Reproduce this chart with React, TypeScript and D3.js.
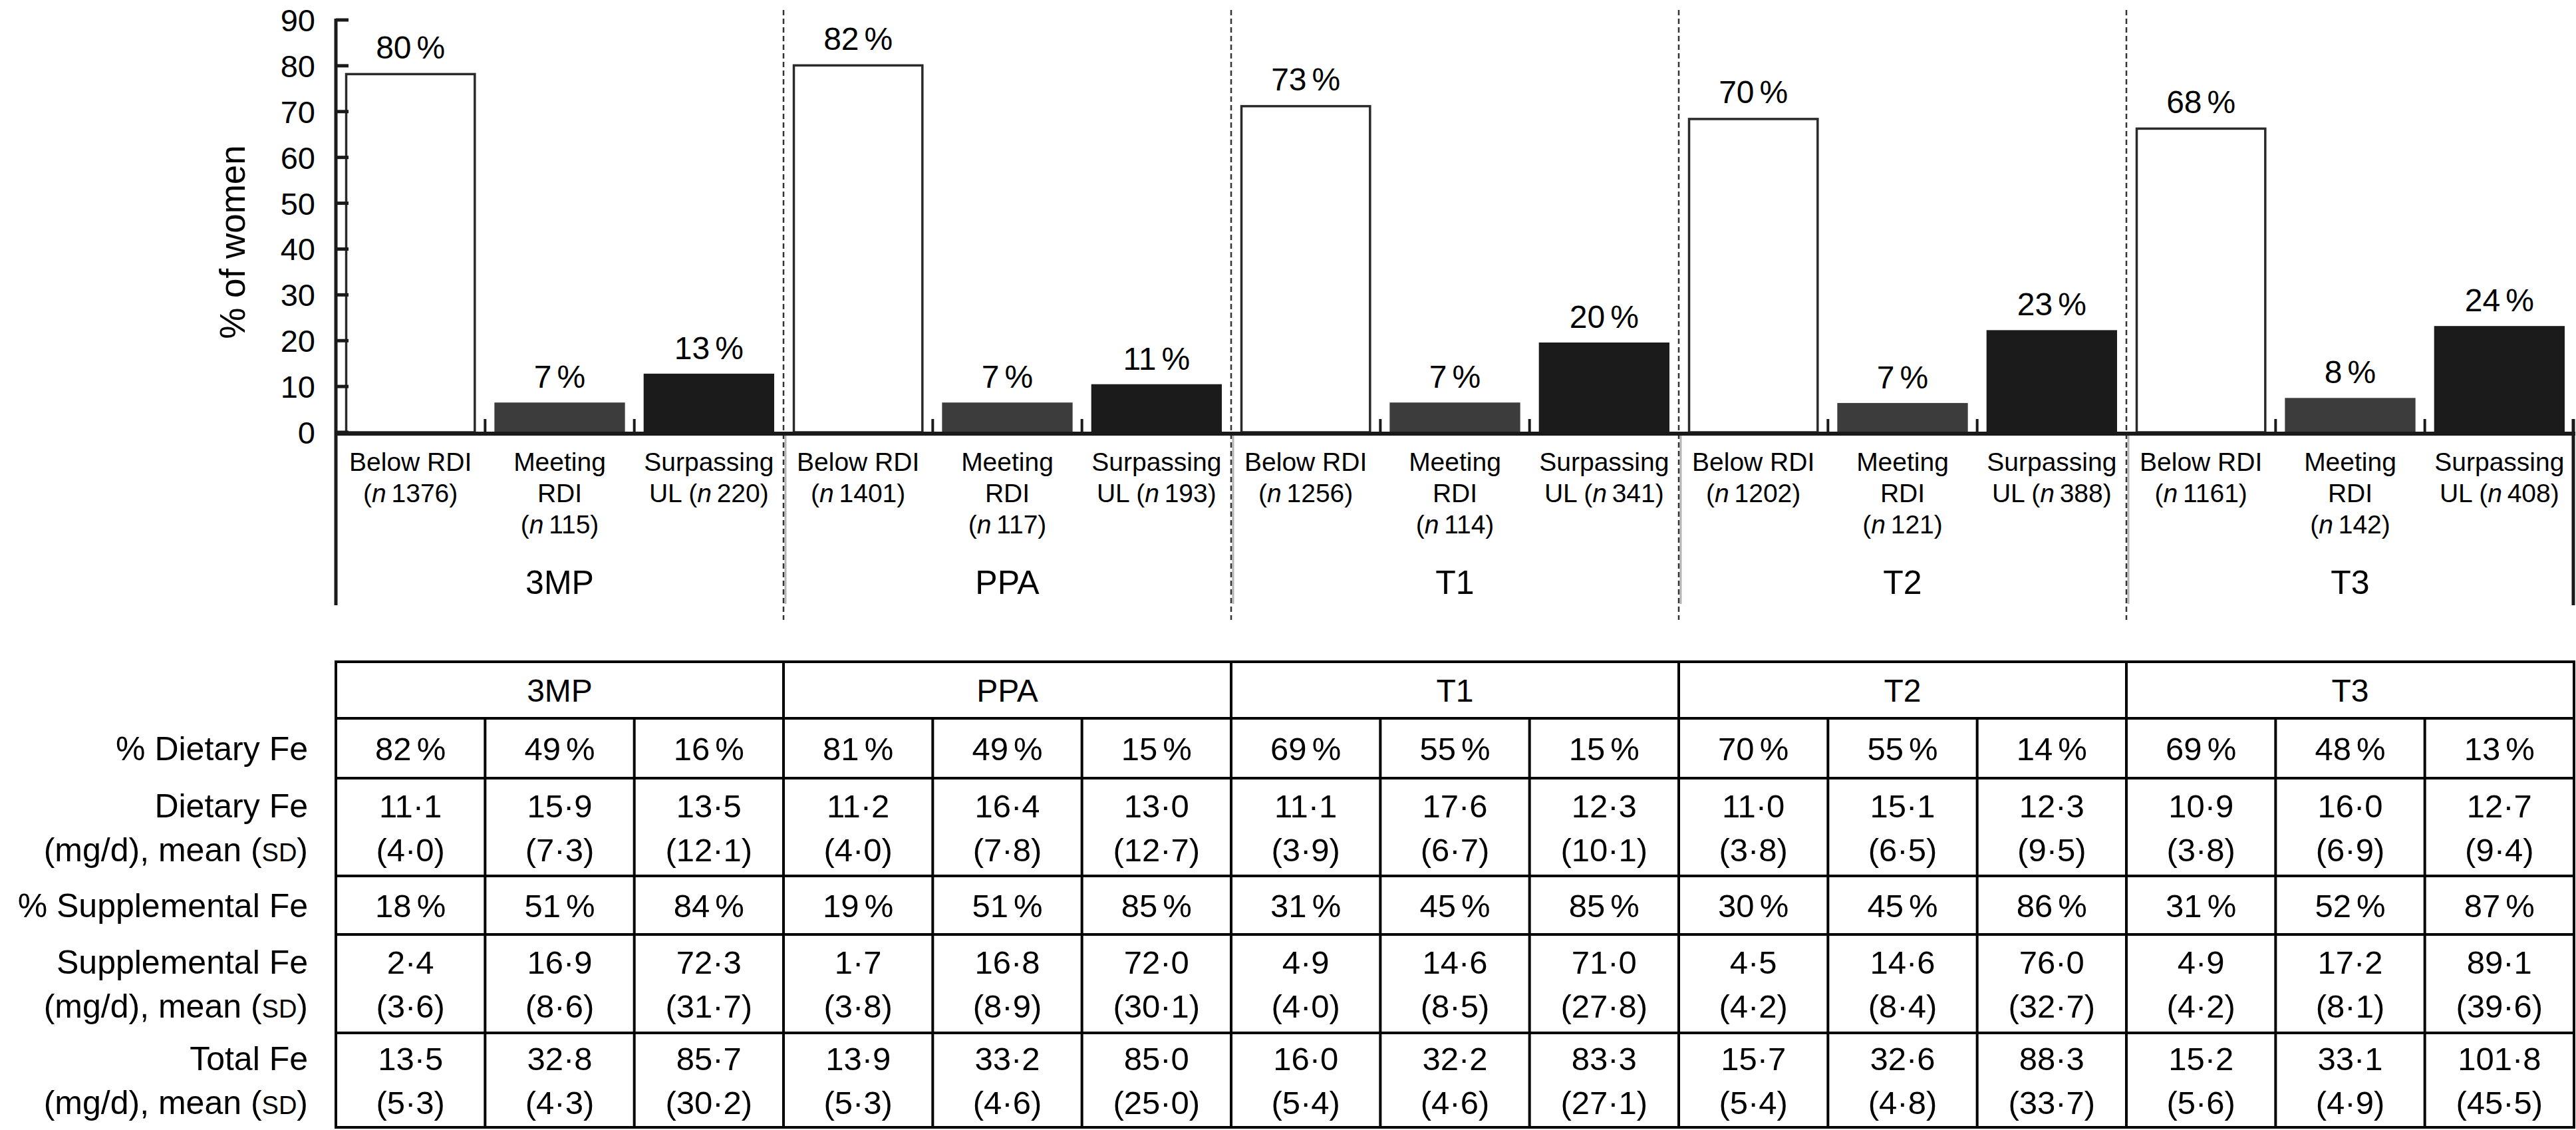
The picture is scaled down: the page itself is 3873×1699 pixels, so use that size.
import React from 'react';
import * as d3 from 'd3';

const groups = ['3MP', 'PPA', 'T1', 'T2', 'T3'];
const categories = ['below', 'meeting', 'surpassing'];
const belowValues = [78.4, 80.3, 71.4, 68.6, 66.5];
const meetingValues = [6.5, 6.5, 6.5, 6.4, 7.5];
const surpassingValues = [12.8, 10.5, 19.6, 22.3, 23.2];
const belowLabels = ['80', '82', '73', '70', '68'];
const meetingLabels = ['7', '7', '7', '7', '8'];
const surpassingLabels = ['13', '11', '20', '23', '24'];
const belowN = [1376, 1401, 1256, 1202, 1161];
const meetingN = [115, 117, 114, 121, 142];
const surpassingN = [220, 193, 341, 388, 408];
const yTicks = [0, 10, 20, 30, 40, 50, 60, 70, 80, 90];

const dietaryPct = [82, 49, 16, 81, 49, 15, 69, 55, 15, 70, 55, 14, 69, 48, 13];
const dietaryMean = [11.1, 15.9, 13.5, 11.2, 16.4, 13.0, 11.1, 17.6, 12.3, 11.0, 15.1, 12.3, 10.9, 16.0, 12.7];
const dietarySd = [4.0, 7.3, 12.1, 4.0, 7.8, 12.7, 3.9, 6.7, 10.1, 3.8, 6.5, 9.5, 3.8, 6.9, 9.4];
const supplPct = [18, 51, 84, 19, 51, 85, 31, 45, 85, 30, 45, 86, 31, 52, 87];
const supplMean = [2.4, 16.9, 72.3, 1.7, 16.8, 72.0, 4.9, 14.6, 71.0, 4.5, 14.6, 76.0, 4.9, 17.2, 89.1];
const supplSd = [3.6, 8.6, 31.7, 3.8, 8.9, 30.1, 4.0, 8.5, 27.8, 4.2, 8.4, 32.7, 4.2, 8.1, 39.6];
const totalMean = [13.5, 32.8, 85.7, 13.9, 33.2, 85.0, 16.0, 32.2, 83.3, 15.7, 32.6, 88.3, 15.2, 33.1, 101.8];
const totalSd = [5.3, 4.3, 30.2, 5.3, 4.6, 25.0, 5.4, 4.6, 27.1, 5.4, 4.8, 33.7, 5.6, 4.9, 45.5];

const FONT = '"Liberation Sans", Arial, Helvetica, sans-serif';
const W = 3873;
const H = 1699;

const fmt1 = (v: number) => d3.format('.1f')(v).replace('.', '\u00B7');

export default function App() {
  const xGroup = d3.scaleBand<string>().domain(groups).range([505, 3870]).padding(0);
  const xCat = d3
    .scaleBand<string>()
    .domain(categories)
    .range([0, xGroup.bandwidth()])
    .paddingInner(0.125)
    .paddingOuter(0.0625);
  const step = xCat.step();
  const y = d3.scaleLinear().domain([0, 90]).range([650, 30]);
  const axisY = 652;

  const valuesByCat: Record<string, number[]> = {
    below: belowValues,
    meeting: meetingValues,
    surpassing: surpassingValues,
  };
  const labelsByCat: Record<string, string[]> = {
    below: belowLabels,
    meeting: meetingLabels,
    surpassing: surpassingLabels,
  };
  const nByCat: Record<string, number[]> = { below: belowN, meeting: meetingN, surpassing: surpassingN };
  const fillByCat: Record<string, string> = { below: '#ffffff', meeting: '#3c3c3c', surpassing: '#1b1b1b' };

  const slotStart = (gi: number, ci: number) => (xGroup(groups[gi]) as number) + ci * step;

  // table geometry
  const rowEdges = [995, 1080, 1170, 1317, 1405, 1553, 1695];
  const tableLeft = 505;
  const tableRight = 3870;
  const lineGap = 66;

  const xLabelLines = (cat: string, n: number) => {
    const nPart = (prefix: string) => (
      <>
        {prefix}
        <tspan fontStyle="italic">n</tspan>
        {'\u2009' + n + ')'}
      </>
    );
    if (cat === 'below') return ['Below RDI', nPart('(')];
    if (cat === 'meeting') return ['Meeting', 'RDI', nPart('(')];
    return ['Surpassing', nPart('UL (')];
  };

  const sdLabel = (
    <>
      (mg/d), mean (<tspan fontSize={38}>SD</tspan>)
    </>
  );
  const rowLabels: any[][] = [
    ['% Dietary Fe'],
    ['Dietary Fe', sdLabel],
    ['% Supplemental Fe'],
    ['Supplemental Fe', sdLabel],
    ['Total Fe', sdLabel],
  ];

  const pctCell = (v: number) => (
    <>
      {String(v)}
      <tspan dx={8}>%</tspan>
    </>
  );
  const meanSdCell = (m: number, s: number) => [fmt1(m), '(' + fmt1(s) + ')'];

  const rowCells = (ri: number, k: number): any[] => {
    if (ri === 0) return [pctCell(dietaryPct[k])];
    if (ri === 1) return meanSdCell(dietaryMean[k], dietarySd[k]);
    if (ri === 2) return [pctCell(supplPct[k])];
    if (ri === 3) return meanSdCell(supplMean[k], supplSd[k]);
    return meanSdCell(totalMean[k], totalSd[k]);
  };

  const linesBaselines = (ri: number, count: number) => {
    const top = rowEdges[ri + 1];
    const bottom = rowEdges[ri + 2];
    const c = (top + bottom) / 2;
    if (count === 1) return [c + 18];
    return [c - lineGap / 2 + 18, c + lineGap / 2 + 18];
  };

  return (
    <svg
      width={W}
      height={H}
      style={{ position: 'absolute', left: 0, top: 0, background: '#fff' }}
      fontFamily={FONT}
    >
      <rect x={0} y={0} width={W} height={H} fill="#fff" />

      {/* dashed group separators */}
      {groups.slice(1).map((g) => {
        const x = xGroup(g) as number;
        return (
          <g key={'sep' + g}>
            <line x1={x + 3} x2={x + 3} y1={axisY} y2={908} stroke="#b5b5b5" strokeWidth={3} />
            <line x1={x} x2={x} y1={15} y2={932} stroke="#333" strokeWidth={2.5} strokeDasharray="8 5" />
          </g>
        );
      })}

      {/* bars */}
      {groups.map((g, gi) =>
        categories.map((c) => {
          const v = valuesByCat[c][gi];
          const x = (xGroup(g) as number) + (xCat(c) as number);
          const bw = xCat.bandwidth();
          const isOutline = c === 'below';
          return (
            <g key={g + c}>
              <rect
                x={isOutline ? x + 1.5 : x}
                y={y(v) + (isOutline ? 1.5 : 0)}
                width={isOutline ? bw - 3 : bw}
                height={y(0) - y(v) - (isOutline ? 1.5 : 0)}
                fill={fillByCat[c]}
                stroke={isOutline ? '#2a2a2a' : 'none'}
                strokeWidth={isOutline ? 3.5 : 0}
              />
              <text x={x + bw / 2} y={y(v) - 22} textAnchor="middle" fontSize={48} fill="#000">
                {labelsByCat[c][gi]}
                <tspan dx={8}>%</tspan>
              </text>
            </g>
          );
        })
      )}

      {/* y axis */}
      <line x1={505} x2={505} y1={28} y2={910} stroke="#1a1a1a" strokeWidth={5} />
      {yTicks.map((t) => (
        <g key={'yt' + t}>
          <line x1={505} x2={524} y1={y(t)} y2={y(t)} stroke="#1a1a1a" strokeWidth={5} />
          <text x={474} y={y(t) + 17} textAnchor="end" fontSize={47} fill="#000">
            {t}
          </text>
        </g>
      ))}
      <text
        transform={`translate(368,364) rotate(-90)`}
        textAnchor="middle"
        fontSize={53}
        fill="#000"
      >
        % of women
      </text>

      {/* x axis */}
      <line x1={503} x2={3872} y1={axisY} y2={axisY} stroke="#1a1a1a" strokeWidth={6} />
      <line x1={3869} x2={3869} y1={630} y2={910} stroke="#1a1a1a" strokeWidth={5} />
      {groups.map((g, gi) =>
        [1, 2].map((ci) => (
          <line
            key={'xt' + g + ci}
            x1={slotStart(gi, ci)}
            x2={slotStart(gi, ci)}
            y1={630}
            y2={axisY}
            stroke="#1a1a1a"
            strokeWidth={4}
          />
        ))
      )}

      {/* category labels */}
      {groups.map((g, gi) =>
        categories.map((c) => {
          const cx = (xGroup(g) as number) + (xCat(c) as number) + xCat.bandwidth() / 2;
          const lines = xLabelLines(c, nByCat[c][gi]);
          return (
            <g key={'xl' + g + c}>
              {lines.map((ln, li) => (
                <text key={li} x={cx} y={708 + li * 47} textAnchor="middle" fontSize={39} fill="#000">
                  {ln}
                </text>
              ))}
            </g>
          );
        })
      )}
      {groups.map((g) => (
        <text
          key={'gl' + g}
          x={(xGroup(g) as number) + xGroup.bandwidth() / 2}
          y={893}
          textAnchor="middle"
          fontSize={50}
          fill="#000"
        >
          {g}
        </text>
      ))}

      {/* table */}
      {rowEdges.map((ry, i) => (
        <line key={'rl' + i} x1={tableLeft - 2} x2={tableRight + 2} y1={ry} y2={ry} stroke="#000" strokeWidth={4} />
      ))}
      {/* vertical lines: outer + group boundaries full height, inner from row 1 */}
      {d3.range(0, 16).map((k) => {
        const gi = Math.min(Math.floor(k / 3), 4);
        const x = k === 15 ? tableRight : slotStart(gi, k % 3);
        const isGroupEdge = k % 3 === 0;
        return (
          <line
            key={'vl' + k}
            x1={x}
            x2={x}
            y1={isGroupEdge ? rowEdges[0] : rowEdges[1]}
            y2={rowEdges[rowEdges.length - 1]}
            stroke="#000"
            strokeWidth={4}
          />
        );
      })}
      {groups.map((g) => (
        <text
          key={'th' + g}
          x={(xGroup(g) as number) + xGroup.bandwidth() / 2}
          y={(rowEdges[0] + rowEdges[1]) / 2 + 17}
          textAnchor="middle"
          fontSize={48}
          fill="#000"
        >
          {g}
        </text>
      ))}
      {rowLabels.map((lines, ri) => {
        const bl = linesBaselines(ri, lines.length);
        return (
          <g key={'rlab' + ri}>
            {lines.map((ln, li) => (
              <text key={li} x={463} y={bl[li]} textAnchor="end" fontSize={50} fill="#000">
                {ln}
              </text>
            ))}
          </g>
        );
      })}
      {rowLabels.map((_, ri) =>
        d3.range(0, 15).map((k) => {
          const cells = rowCells(ri, k);
          const bl = linesBaselines(ri, cells.length);
          const gi = Math.floor(k / 3);
          const cx = slotStart(gi, k % 3) + step / 2;
          return (
            <g key={'c' + ri + '-' + k}>
              {cells.map((ln, li) => (
                <text key={li} x={cx} y={bl[li]} textAnchor="middle" fontSize={49} fill="#000">
                  {ln}
                </text>
              ))}
            </g>
          );
        })
      )}
    </svg>
  );
}
